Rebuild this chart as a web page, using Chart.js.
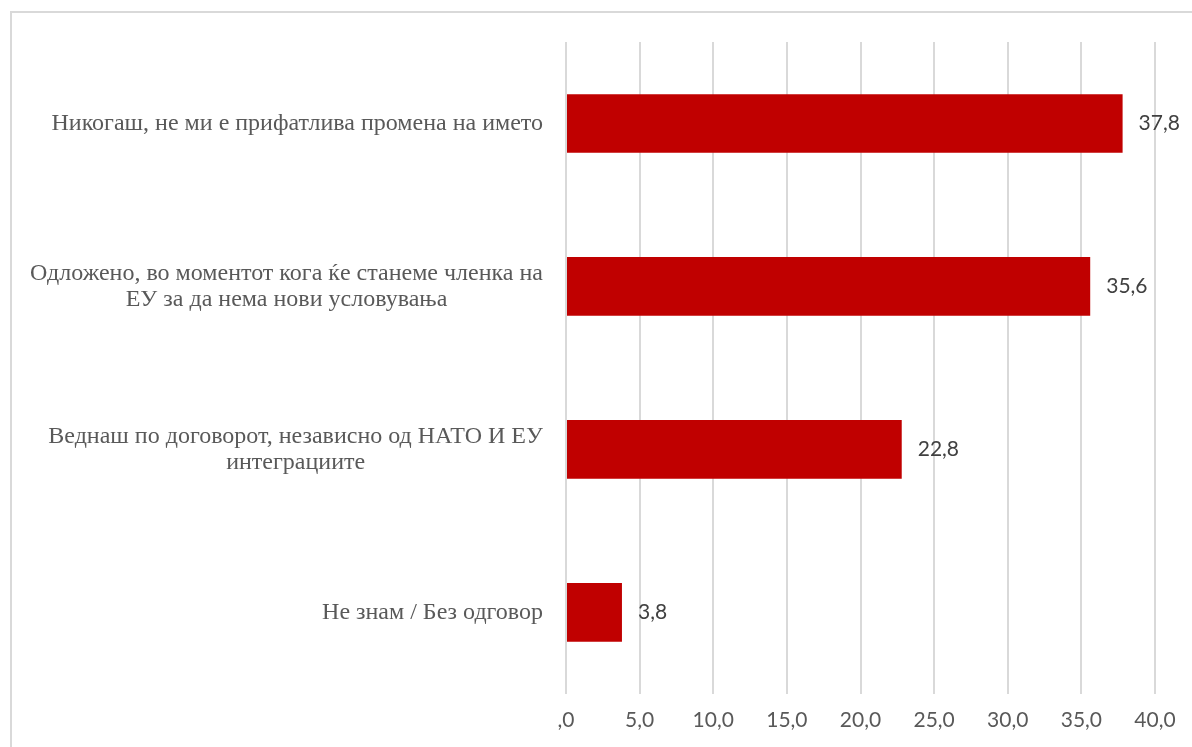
<!DOCTYPE html>
<html>
<head>
<meta charset="utf-8">
<script src="https://cdn.jsdelivr.net/npm/chart.js@4"></script>
<style>
  body { margin: 0; background: #fff; overflow: hidden; }
  #frame { position: absolute; left: 10px; top: 11px; width: 1200px; height: 760px; border: 2px solid #d9d9d9; }
  #wrap { position: absolute; left: 0; top: 0; width: 1192px; height: 747px; }
</style>
</head>
<body>
<div id="frame"></div>
<div id="wrap"><canvas id="chart"></canvas></div>
<script>
// categories (each one split into its printed lines)
const categories = [
  ["Никогаш, не ми е прифатлива промена на името"],
  ["Одложено, во моментот кога ќе станеме членка на", "ЕУ за да нема нови условувања"],
  ["Веднаш по договорот, независно од НАТО И ЕУ", "интеграциите"],
  ["Не знам / Без одговор"],
];
const values = [37.8, 35.6, 22.8, 3.8];
const xTicks = [0, 5, 10, 15, 20, 25, 30, 35, 40];

const fmt = (v) => (v === 0 ? ",0" : v.toFixed(1).replace(".", ","));

// category labels: block right-aligned to the axis, lines centered within it
const catLabels = {
  id: "catLabels",
  afterDraw(chart) {
    const c = chart.ctx;
    const y = chart.scales.y;
    c.save();
    c.font = "24px 'Liberation Serif'";
    c.fillStyle = "#595959";
    c.textAlign = "center";
    c.textBaseline = "middle";
    const lh = 26;
    categories.forEach((lines, i) => {
      const w = Math.max(...lines.map((l) => c.measureText(l).width));
      const cx = y.right - 23 - w / 2;
      const cy = y.getPixelForValue(i);
      lines.forEach((l, j) => {
        c.fillText(l, cx, cy + (j - (lines.length - 1) / 2) * lh);
      });
    });
    c.restore();
  },
};

// value labels at bar ends
const valueLabels = {
  id: "valueLabels",
  afterDatasetsDraw(chart) {
    const c = chart.ctx;
    const meta = chart.getDatasetMeta(0);
    c.save();
    c.font = "21px Lato";
    c.fillStyle = "#404040";
    c.textAlign = "left";
    c.textBaseline = "middle";
    meta.data.forEach((bar, i) => {
      c.fillText(fmt(values[i]), bar.x + 16, bar.y);
    });
    c.restore();
  },
};

new Chart(document.getElementById("chart"), {
  type: "bar",
  data: {
    labels: categories,
    datasets: [
      {
        data: values,
        backgroundColor: "#c00000",
        barPercentage: 0.36,
        categoryPercentage: 1,
      },
    ],
  },
  options: {
    indexAxis: "y",
    responsive: true,
    maintainAspectRatio: false,
    animation: false,
    layout: { padding: { top: 42, right: 37, bottom: 0, left: 0 } },
    plugins: { legend: { display: false }, tooltip: { enabled: false } },
    scales: {
      x: {
        min: 0,
        max: 40,
        afterBuildTicks: (axis) => {
          axis.ticks = xTicks.map((v) => ({ value: v }));
        },
        grid: { color: "#d9d9d9", lineWidth: 2, drawTicks: false },
        border: { display: false },
        ticks: {
          padding: 14,
          color: "#595959",
          font: { family: "Lato", size: 21 },
          callback: (v) => fmt(v),
        },
      },
      y: {
        grid: { display: false },
        border: { display: false },
        ticks: { display: false },
        afterFit: (axis) => {
          axis.width = 566;
        },
      },
    },
  },
  plugins: [catLabels, valueLabels],
});
</script>
</body>
</html>
